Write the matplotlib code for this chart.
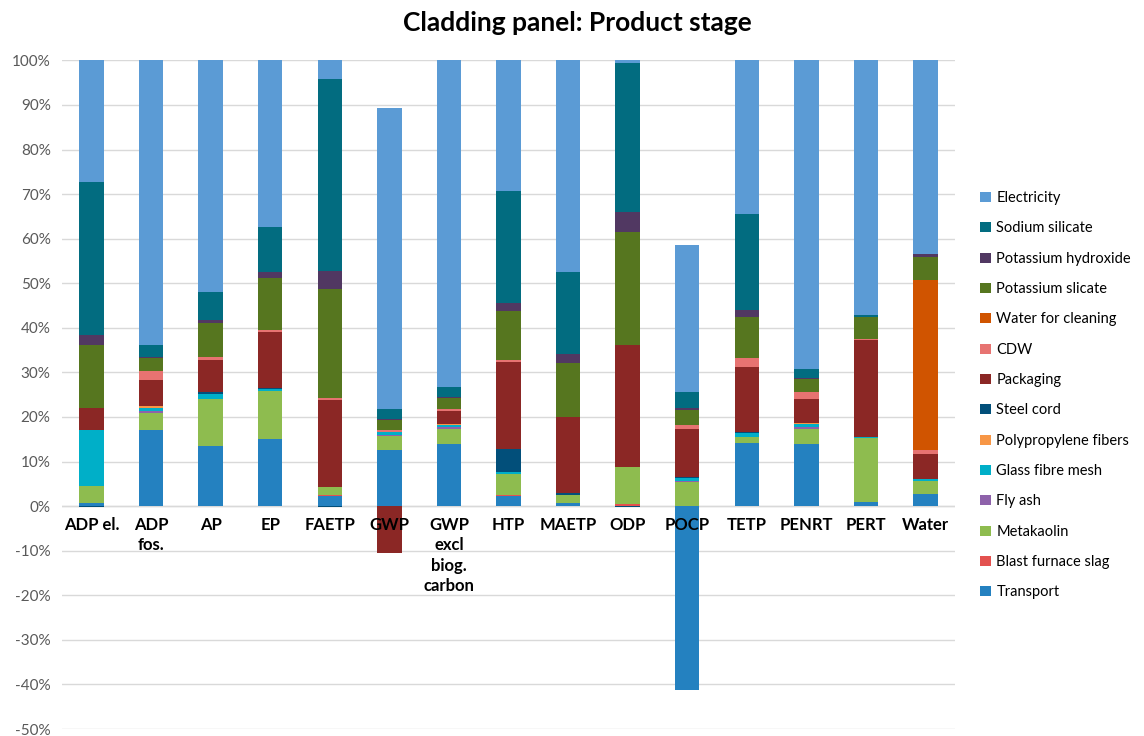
import matplotlib
matplotlib.use("Agg")
import matplotlib.pyplot as plt
import numpy as np

plt.rcParams['font.family'] = ['Lato', 'DejaVu Sans']

categories = ["ADP el.", "ADP\nfos.", "AP", "EP", "FAETP", "GWP",
              "GWP\nexcl\nbiog.\ncarbon", "HTP", "MAETP", "ODP", "POCP",
              "TETP", "PENRT", "PERT", "Water"]

# shares in % per impact category
transport      = [0.8, 17.0, 13.5, 15.0, 2.2, 12.6, 14.0, 2.2, 0.8, 0.0, -41.3, 14.2, 14.0, 1.0, 2.8]
blast_slag     = [0.0, 0.0, 0.0, 0.0, 0.4, 0.0, 0.0, 0.4, 0.0, 0.4, 0.0, 0.0, 0.0, 0.0, 0.0]
metakaolin     = [3.8, 3.9, 10.6, 10.8, 1.8, 3.1, 3.4, 4.6, 1.7, 8.4, 5.4, 1.3, 3.4, 14.3, 2.8]
fly_ash        = [0.0, 0.4, 0.0, 0.0, 0.0, 0.3, 0.4, 0.0, 0.0, 0.0, 0.2, 0.0, 0.4, 0.0, 0.0]
glass_fibre    = [12.5, 0.8, 1.1, 0.4, 0.0, 0.7, 0.5, 0.4, 0.0, 0.0, 0.6, 1.0, 0.6, 0.2, 0.5]
polypropylene  = [0.0, 0.3, 0.0, 0.0, 0.0, 0.0, 0.2, 0.0, 0.0, 0.0, 0.0, 0.0, 0.2, 0.0, 0.0]
steel_cord     = [-0.3, 0.0, 0.3, 0.2, -0.3, 0.0, 0.0, 5.2, 0.4, -0.3, 0.4, 0.2, 0.0, 0.0, 0.0]
packaging      = [4.8, 5.8, 7.3, 12.7, 19.4, -10.5, 2.8, 19.5, 17.0, 27.4, 10.8, 14.6, 5.4, 21.8, 5.7]
cdw            = [0.2, 2.2, 0.6, 0.5, 0.4, 0.4, 0.4, 0.4, 0.2, 0.0, 0.8, 1.9, 1.7, 0.3, 0.8]
water_cleaning = [0.0, 0.0, 0.0, 0.0, 0.0, 0.0, 0.0, 0.0, 0.0, 0.0, 0.0, 0.0, 0.0, 0.0, 38.1]
k_silicate     = [14.1, 2.8, 7.7, 11.5, 24.5, 2.2, 2.5, 11.0, 12.0, 25.4, 3.4, 9.3, 2.8, 4.8, 5.2]
k_hydroxide    = [2.1, 0.2, 0.6, 1.4, 4.0, 0.3, 0.2, 1.8, 2.1, 4.3, 0.3, 1.5, 0.3, 0.0, 0.6]
na_silicate    = [34.5, 2.8, 6.3, 10.2, 43.2, 2.2, 2.4, 25.3, 18.3, 33.6, 3.7, 21.5, 1.9, 0.4, 0.0]
electricity    = [27.2, 63.8, 52.0, 37.3, 4.1, 67.4, 73.2, 29.2, 47.5, 0.5, 33.0, 34.5, 69.3, 57.2, 43.5]

series = [
    ("Transport", transport, "#2481C0"),
    ("Blast furnace slag", blast_slag, "#E3514F"),
    ("Metakaolin", metakaolin, "#8EBC4F"),
    ("Fly ash", fly_ash, "#8E62AA"),
    ("Glass fibre mesh", glass_fibre, "#00AFC8"),
    ("Polypropylene fibers", polypropylene, "#F79646"),
    ("Steel cord", steel_cord, "#024F7A"),
    ("Packaging", packaging, "#8B2725"),
    ("CDW", cdw, "#E77371"),
    ("Water for cleaning", water_cleaning, "#D05400"),
    ("Potassium slicate", k_silicate, "#56761F"),
    ("Potassium hydroxide", k_hydroxide, "#513862"),
    ("Sodium silicate", na_silicate, "#026C80"),
    ("Electricity", electricity, "#5B9BD5"),
]

fig = plt.figure(figsize=(11.44, 7.36), dpi=100)
ax = fig.add_axes([0.054, 0.0095, 0.781, 0.9085])

x = np.arange(len(categories))
pos_base = np.zeros(len(categories))
neg_base = np.zeros(len(categories))
handles = []
for name, vals, col in series:
    v = np.array(vals, dtype=float)
    pos = np.where(v > 0, v, 0)
    neg = np.where(v < 0, v, 0)
    b = ax.bar(x, pos, 0.41, bottom=pos_base, color=col, label=name, zorder=2)
    ax.bar(x, neg, 0.41, bottom=neg_base, color=col, zorder=2)
    pos_base += pos
    neg_base += neg
    handles.append(b)

ax.set_xlim(-0.5, 14.5)
ax.set_ylim(-50, 100)
ax.set_yticks(np.arange(-50, 101, 10))
ax.set_yticklabels([f"{t}%" for t in range(-50, 101, 10)], fontsize=11, color="#595959")
ax.set_xticks([])
ax.grid(axis="y", color="#D9D9D9", linewidth=1, zorder=0)
ax.axhline(0, color="#D9D9D9", linewidth=1, zorder=1)
for s in ax.spines.values():
    s.set_visible(False)
ax.tick_params(axis="y", length=0, pad=8)

for i, lab in enumerate(categories):
    ax.text(i, -2.4, lab, ha="center", va="top", fontsize=12, fontweight="bold",
            linespacing=1.35, zorder=5)

fig.suptitle("Cladding panel: Product stage", x=0.505, y=0.985,
             fontsize=19, fontweight="bold")

leg = ax.legend(handles[::-1], [s[0] for s in series][::-1], loc="center left",
                bbox_to_anchor=(0.848, 0.463), bbox_transform=fig.transFigure,
                frameon=False, fontsize=10.5, handlelength=0.7, handleheight=0.7,
                handletextpad=0.4, labelspacing=1.12, borderpad=0.2)

fig.savefig("out.png", dpi=100)
